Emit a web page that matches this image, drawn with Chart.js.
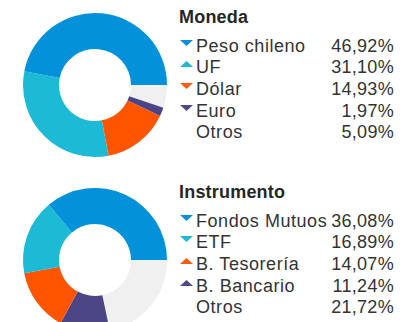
<!DOCTYPE html>
<html>
<head>
<meta charset="utf-8">
<script src="https://cdn.jsdelivr.net/npm/chart.js@4.4.1/dist/chart.umd.min.js"></script>
<style>
  html, body { margin: 0; padding: 0; background: #fff; width: 413px; height: 322px; overflow: hidden; }
  body { position: relative; font-family: "Liberation Sans", Arial, sans-serif; color: #333; }
  .block { position: absolute; left: 0; width: 413px; height: 175px; }
  .block canvas { position: absolute; left: 19.5px; top: 10px; }
  .title { position: absolute; left: 179px; font-weight: bold; font-size: 18px; line-height: 20px; color: #262626; letter-spacing: 0.2px; }
  .row { position: absolute; left: 179px; width: 215px; height: 22px; font-size: 18px; line-height: 22px; color: #333; }
  .row .lbl { position: absolute; left: 17px; white-space: nowrap; letter-spacing: 0.55px; }
  .row .val { position: absolute; right: 0; white-space: nowrap; letter-spacing: 0.3px; }
  .row svg { position: absolute; left: 1px; top: 5px; }
</style>
</head>
<body>
<script>
// Moneda
const monedaLabels = ['Peso chileno', 'UF', 'Dólar', 'Euro', 'Otros'];
const monedaValues = [46.92, 31.10, 14.93, 1.97, 5.09];
const monedaArrows = ['down', 'up', 'down', 'down', null];

// Instrumento
const instrumentoLabels = ['Fondos Mutuos', 'ETF', 'B. Tesorería', 'B. Bancario', 'Otros'];
const instrumentoValues = [36.08, 16.89, 14.07, 11.24, 21.72];
const instrumentoArrows = ['down', 'down', 'up', 'up', null];

const sliceColors = ['#0391d9', '#1dbad5', '#ff5500', '#4b4586', '#f0f0f0'];
const arrowColors = ['#0a8fd6', '#22b8d2', '#ff5a10', '#4f4a8a'];

function fmt(v) {
  return v.toFixed(2).replace('.', ',') + '%';
}

function arrowSvg(dir, color) {
  if (!dir) return '';
  const pts = dir === 'down' ? '0,0 13,0 6.5,6' : '0,6 13,6 6.5,0';
  return '<svg width="13" height="6" viewBox="0 0 13 6"><polygon points="' + pts + '" fill="' + color + '"/></svg>';
}

function buildBlock(top, title, labels, values, arrows) {
  const block = document.createElement('div');
  block.className = 'block';
  block.style.top = top + 'px';
  document.body.appendChild(block);

  const canvas = document.createElement('canvas');
  canvas.width = 150;
  canvas.height = 150;
  canvas.style.width = '150px';
  canvas.style.height = '150px';
  block.appendChild(canvas);

  const t = document.createElement('div');
  t.className = 'title';
  t.style.top = '7px';
  t.textContent = title;
  block.appendChild(t);

  labels.forEach((lab, i) => {
    const row = document.createElement('div');
    row.className = 'row';
    row.style.top = (34.8 + 21.6 * i) + 'px';
    row.innerHTML = arrowSvg(arrows[i], arrowColors[i]) +
      '<span class="lbl">' + lab + '</span><span class="val">' + fmt(values[i]) + '</span>';
    block.appendChild(row);
  });

  // slices run counter-clockwise from 3 o'clock, so feed them reversed with a clockwise start at 90°
  const revValues = values.slice().reverse();
  const revColors = sliceColors.slice().reverse();
  const revLabels = labels.slice().reverse();

  new Chart(canvas, {
    type: 'doughnut',
    data: {
      labels: revLabels,
      datasets: [{
        data: revValues,
        backgroundColor: revColors,
        borderWidth: 0,
        hoverOffset: 0
      }]
    },
    options: {
      responsive: false,
      animation: false,
      devicePixelRatio: 1,
      rotation: 90,
      cutout: '50%',
      layout: { padding: 3 },
      plugins: {
        legend: { display: false },
        tooltip: { enabled: false }
      }
    }
  });
}

buildBlock(0, 'Moneda', monedaLabels, monedaValues, monedaArrows);
buildBlock(175, 'Instrumento', instrumentoLabels, instrumentoValues, instrumentoArrows);
</script>
</body>
</html>
